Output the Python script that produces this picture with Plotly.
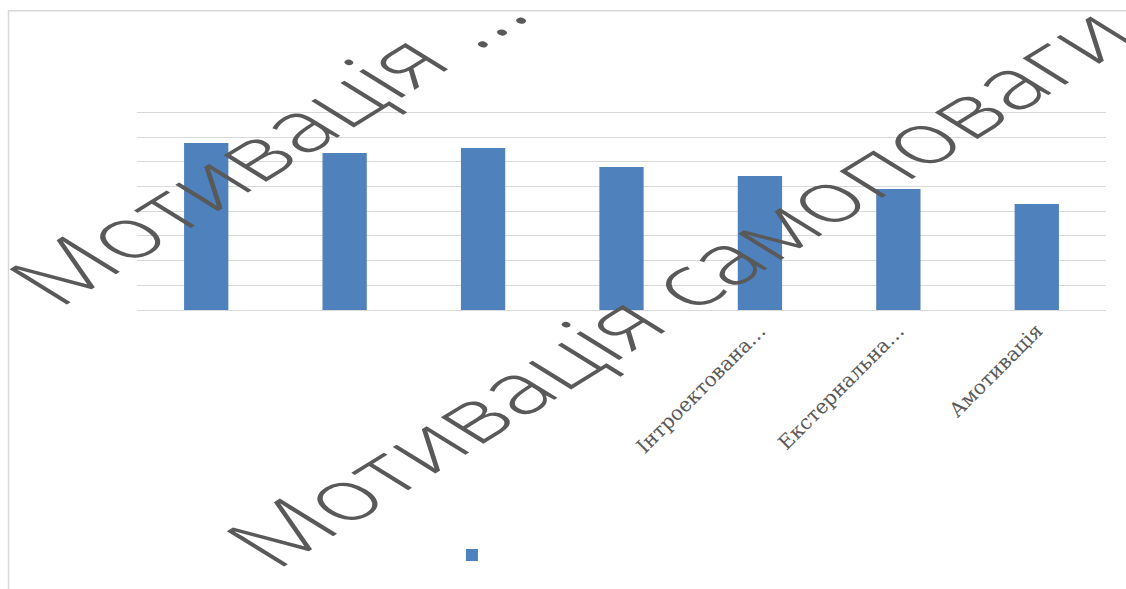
import plotly.graph_objects as go

# ---- data (gridline units) ----
tick_labels = ["", "", "", "", "Інтроектована…", "Екстернальна…", "Амотивація"]
big_labels = ["Мотивація …", "Мотивація самоповаги"]
values = [6.76, 6.36, 6.56, 5.79, 5.43, 4.90, 4.29]
series_name = ""

positions = list(range(len(tick_labels)))

TEXT = "#595959"
GRID = "#d9d9d9"
BAR = "#4f81bd"

fig = go.Figure()
fig.add_trace(go.Bar(
    x=positions, y=values, name=series_name, marker_color=BAR,
    marker_line_width=0, showlegend=True,
))

fig.update_layout(
    width=1126, height=589,
    margin=dict(l=137, r=20, t=105, b=279, autoexpand=False),
    paper_bgcolor="white", plot_bgcolor="white",
    bargap=0.68,
    showlegend=True,
    legend=dict(x=0.325, y=-1.195, xanchor="left", yanchor="middle",
                orientation="h", font=dict(size=12, color=TEXT),
                bgcolor="rgba(0,0,0,0)"),
    xaxis=dict(
        tickmode="array", tickvals=positions, ticktext=tick_labels,
        tickangle=-45, range=[-0.5, len(positions) - 0.5],
        showgrid=False, showline=True, linecolor=GRID, linewidth=1,
        ticks="", tickfont=dict(family="DejaVu Serif", size=20, color=TEXT),
        zeroline=False,
    ),
    yaxis=dict(
        range=[0, 8.3], tickvals=list(range(0, 9)), showticklabels=False,
        showgrid=True, gridcolor=GRID, gridwidth=1, zeroline=False,
        showline=False, ticks="",
    ),
    shapes=[dict(type="rect", xref="paper", yref="paper",
                 x0=-0.1326, x1=1.5, y0=-1.6, y1=1.4595,
                 line=dict(color=GRID, width=1.5), fillcolor="rgba(0,0,0,0)",
                 layer="below")],
)

big_pos = [(0.132, 0.81), (0.557, 0.117)]
for txt, (px, py) in zip(big_labels, big_pos):
    fig.add_annotation(
        text=txt, xref="paper", yref="paper", x=px, y=py,
        xanchor="center", yanchor="middle", showarrow=False,
        font=dict(family="Open Sans", size=70, color=TEXT, weight=300),
    )

# the big labels in the picture are rotated 45 degrees and stretched sideways
post = """
var gd = document.getElementById('{plot_id}');
var k = 1.62;
gd.querySelectorAll('.annotation').forEach(function(a){
  var t = a.querySelector('.annotation-text-g');
  var b = t.getBBox();
  var cx = b.x + b.width/2, cy = b.y + b.height/2;
  t.setAttribute('transform', 'translate(' + cx + ',' + cy + ') scale(' + k +
    ',1) rotate(-45) translate(' + (-cx) + ',' + (-cy) + ')');
});
"""

fig.write_html("out.html", post_script=post)
